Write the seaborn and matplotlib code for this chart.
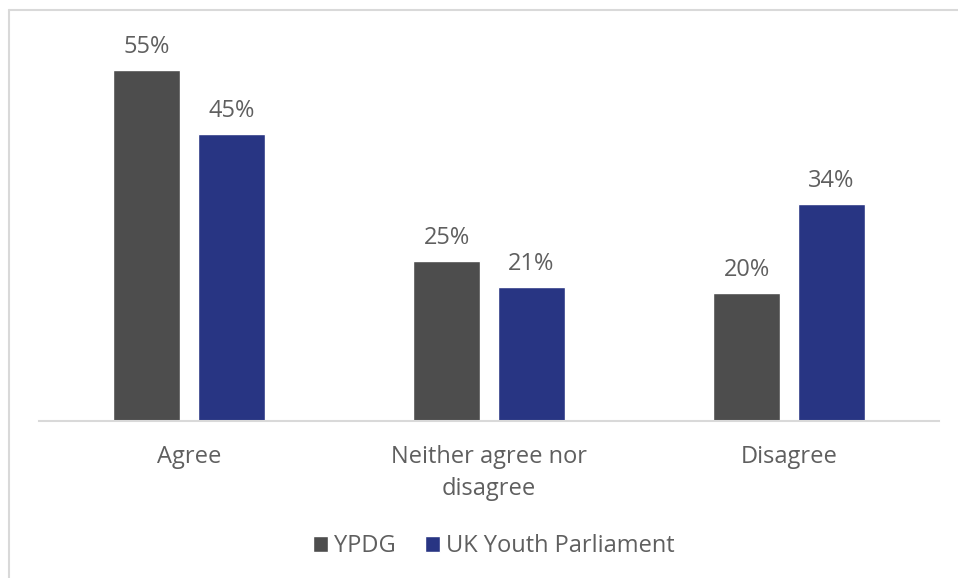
import matplotlib
matplotlib.use("Agg")
import matplotlib.pyplot as plt
from matplotlib.lines import Line2D
import seaborn as sns
import pandas as pd

# Survey responses (% of respondents)
categories = ["Agree", "Neither agree nor\ndisagree", "Disagree"]
groups = ["YPDG", "UK Youth Parliament"]
ypdg = [55, 25, 20]
ukyp = [45, 21, 34]

df = pd.DataFrame({
    "response": categories * 2,
    "group": [groups[0]] * 3 + [groups[1]] * 3,
    "pct": ypdg + ukyp,
})

sns.set_theme(style="white")
plt.rcParams["font.family"] = ["Open Sans", "DejaVu Sans"]

text_color = "#5f5f5f"
palette = {"YPDG": "#4D4D4D", "UK Youth Parliament": "#283583"}

W, H = 958, 578
fig = plt.figure(figsize=(W / 100, H / 100), dpi=100)
ax = fig.add_axes([39 / W, (H - 421) / H, 900 / W, (421 - 38) / H])

sns.barplot(data=df, x="response", y="pct", hue="group", order=categories,
            hue_order=groups, palette=palette, width=0.563, gap=0.207,
            saturation=1, ax=ax, legend=True)

ax.set_ylim(0, 60)
ax.set_xlim(-0.5, 2.5)
for c in ax.containers:
    ax.bar_label(c, fmt="%.0f%%", padding=8, fontsize=17, color=text_color)

ax.set_xlabel("")
ax.set_ylabel("")
ax.set_yticks([])
ax.tick_params(axis="x", length=0, pad=17, labelsize=17, labelcolor=text_color)
for lbl in ax.get_xticklabels():
    lbl.set_linespacing(1.45)
for side in ["top", "right", "left"]:
    ax.spines[side].set_visible(False)
ax.spines["bottom"].set_color("#D9D9D9")
ax.spines["bottom"].set_linewidth(1.5)

ax.legend(loc="center", bbox_to_anchor=(0.5 + 5 / 900, (546 - 421) / -(421 - 38)),
          ncol=2, frameon=False, fontsize=17, labelcolor=text_color,
          handlelength=0.64, handleheight=0.64, handletextpad=0.25,
          columnspacing=1.25)

# Outer frame edges
fig.add_artist(Line2D([8.5 / W, 1], [1 - 9.5 / H, 1 - 9.5 / H],
                      color="#D9D9D9", lw=1.5, transform=fig.transFigure))
fig.add_artist(Line2D([8.5 / W, 8.5 / W], [0, 1 - 9.5 / H],
                      color="#D9D9D9", lw=1.5, transform=fig.transFigure))

fig.savefig("out.png", dpi=100)
